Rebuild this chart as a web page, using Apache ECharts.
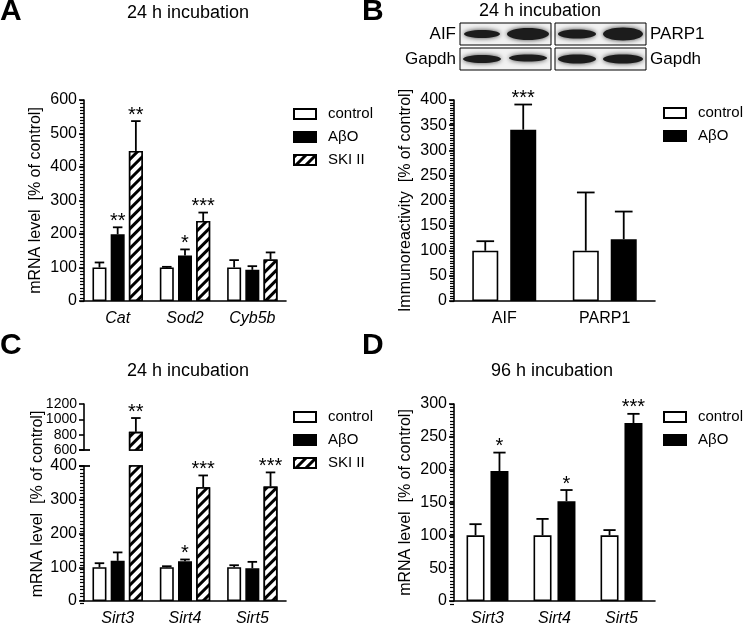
<!DOCTYPE html>
<html><head><meta charset="utf-8">
<script src="https://cdn.jsdelivr.net/npm/echarts@6/dist/echarts.min.js"></script>
<style>html,body{margin:0;padding:0;background:#fff}#c{width:745px;height:627px}</style>
</head><body><div id="c"></div>
<script>
// ---------- DATA ----------
const catA = ['Cat', 'Sod2', 'Cyb5b'];
const ctrlA = [100, 100, 100];
const ctrlAErr = [15, 2, 22];
const abA = [199, 136, 93];
const abAErr = [21, 18, 11];
const skiA = [448, 239, 124];
const skiAErr = [89, 25, 21];
const sigAbA = ['**', '*', ''];
const sigSkiA = ['**', '***', ''];

const catB = ['AIF', 'PARP1'];
const ctrlB = [100, 100];
const ctrlBErr = [19, 116];
const abB = [341, 123];
const abBErr = [50, 55];
const sigAbB = ['***', ''];

const catC = ['Sirt3', 'Sirt4', 'Sirt5'];
const ctrlC = [100, 100, 100];
const ctrlCErr = [12, 3, 6];
const abC = [119, 118, 97];
const abCErr = [25, 5, 19];
const skiC = [837, 337, 339];
const skiCErr = [180, 35, 42];
const sigAbC = ['', '*', ''];
const sigSkiC = ['**', '***', '***'];

const catD = ['Sirt3', 'Sirt4', 'Sirt5'];
const ctrlD = [100, 100, 100];
const ctrlDErr = [17, 25, 8];
const abD = [198, 152, 271];
const abDErr = [28, 17, 14];
const sigAbD = ['*', '*', '***'];

const ticksA = {min: 0, max: 600, interval: 100, minor: 10};
const ticksB = {min: 0, max: 400, interval: 50, minor: 5};
const ticksCUp = {min: 600, max: 1200, interval: 200};
const ticksCLow = {min: 0, max: 400, interval: 100, minor: 10};
const ticksD = {min: 0, max: 300, interval: 50, minor: 5};

// ---------- STYLE ----------
const FONT = 'Liberation Sans';
const hatch = {
  symbol: 'rect', symbolSize: 1, color: '#000', backgroundColor: '#fff',
  dashArrayX: [1, 0], dashArrayY: [2.5, 3.5], rotation: -Math.PI / 4
};
const styles = {
  control: {color: '#fff', borderColor: '#000', borderWidth: 1.6},
  ab: {color: '#000', borderColor: '#000', borderWidth: 1.6},
  ski: {color: '#fff', borderColor: '#000', borderWidth: 1.6, decal: hatch}
};

const grids = [
  {left: 84, top: 100, width: 202, height: 201},
  {left: 454, top: 100, width: 201, height: 201},
  {left: 84, top: 404, width: 202, height: 46},
  {left: 84, top: 466, width: 202, height: 137},
  {left: 454, top: 404, width: 201, height: 200}
];

function bar(name, data, style, gi, bw, gap) {
  return {
    type: 'bar', name: name, data: data, xAxisIndex: gi, yAxisIndex: gi,
    barWidth: bw, barGap: gap, itemStyle: style, clip: true, z: 2,
    emphasis: {disabled: true}
  };
}

function errs(means, errVals, sigs, gi, idx, count, bw, gap) {
  return {
    type: 'custom', xAxisIndex: gi, yAxisIndex: gi, z: 5, silent: true,
    data: means.map((m, i) => [i, m, errVals[i]]),
    renderItem: function (params, api) {
      const ci = api.value(0), m = api.value(1), e = api.value(2);
      const cs = params.coordSys;
      const base = api.coord([ci, m]);
      if (base[1] < cs.y - 0.5 || base[1] > cs.y + cs.height + 0.5) return;
      const top = api.coord([ci, m + e]);
      let off;
      const lay = api.barLayout ? api.barLayout({barWidth: bw, barGap: gap, count: count}) : null;
      if (lay && lay[idx]) off = lay[idx].offsetCenter;
      else off = (idx - (count - 1) / 2) * bw * (1 + parseFloat(gap) / 100);
      const x = base[0] + off;
      const half = bw * 0.34;
      const ch = [
        {type: 'line', shape: {x1: x, y1: base[1], x2: x, y2: top[1]}, style: {stroke: '#000', lineWidth: 1.8}},
        {type: 'line', shape: {x1: x - half, y1: top[1], x2: x + half, y2: top[1]}, style: {stroke: '#000', lineWidth: 1.8}}
      ];
      const s = sigs ? sigs[params.dataIndex] : '';
      if (s) ch.push({type: 'text', x: x, y: top[1] + 4, style: {text: s, textAlign: 'center', textVerticalAlign: 'bottom', font: '20px ' + FONT, fill: '#000'}});
      return {type: 'group', children: ch};
    }
  };
}

// minor ticks: a thin helper grid just left of each y axis, sharing its scale
const minorSets = [[0, ticksA], [1, ticksB], [3, ticksCLow], [4, ticksD]];
const auxGrids = minorSets.map(([gi]) => ({left: grids[gi].left - 4, top: grids[gi].top, width: 4, height: grids[gi].height}));
const auxX = minorSets.map((s, k) => ({type: 'value', gridIndex: 5 + k, min: 0, max: 1, show: false}));
const auxY = minorSets.map(([gi, t], k) => ({type: 'value', gridIndex: 5 + k, min: t.min, max: t.max, show: false}));
const auxSeries = minorSets.map(([gi, t], k) => {
  const vals = [];
  for (let v = t.min; v <= t.max + 1e-9; v += t.minor) vals.push([0, v]);
  return {
    type: 'custom', xAxisIndex: 5 + k, yAxisIndex: 5 + k, z: 6, silent: true, data: vals,
    renderItem: function (params, api) {
      const p = api.coord([0, api.value(1)]);
      const cs = params.coordSys;
      const y = Math.round(p[1]) + 0.5;
      return {type: 'line', shape: {x1: cs.x, y1: y, x2: cs.x + cs.width, y2: y}, style: {stroke: '#000', lineWidth: 1.2}};
    }
  };
});

function yAx(gi, t, name, gap, fs) {
  return {
    type: 'value', gridIndex: gi, min: t.min, max: t.max, interval: t.interval, position: 'left',
    name: name || '', nameLocation: 'middle', nameGap: gap || 40,
    nameTextStyle: {fontFamily: FONT, fontSize: 16, color: '#000'},
    axisLine: {show: true, lineStyle: {color: '#000', width: 1.6}},
    axisTick: {show: true, length: 5, lineStyle: {color: '#000', width: 1.6}},
    splitLine: {show: false},
    axisLabel: {fontFamily: FONT, fontSize: fs || 16, color: '#000', margin: 7, hideOverlap: false,
      showMinLabel: true, showMaxLabel: true, formatter: v => String(v)}
  };
}
function xAx(gi, cats, italic, show) {
  return {
    type: 'category', gridIndex: gi, data: cats, show: show !== false,
    axisLine: {show: true, lineStyle: {color: '#000', width: 1.6}},
    axisTick: {show: false},
    axisLabel: {fontFamily: FONT, fontSize: 16, color: '#000', margin: 10, fontStyle: italic ? 'italic' : 'normal'}
  };
}

function legend(names, left, top) {
  return {
    data: names, orient: 'vertical', left: left, top: top, itemWidth: 22, itemHeight: 10, itemGap: 5,
    icon: 'rect', selectedMode: false,
    textStyle: {fontFamily: FONT, fontSize: 15, color: '#000', lineHeight: 18, padding: [0, 0, 0, 7]}
  };
}

const upOnly = skiC.map(v => v > ticksCUp.min ? v : '-');
const dash = skiC.map(() => '-');

function txt(t, x, y, size, opts) {
  return {type: 'text', x: x, y: y, style: Object.assign({text: t, font: size + 'px ' + FONT, fill: '#000', textAlign: 'center', textVerticalAlign: 'middle'}, opts || {})};
}
function band(cx, cy, rx, ry) {
  return {type: 'ellipse', shape: {cx: cx, cy: cy, rx: rx, ry: ry}, style: {fill: '#1c1c1c', shadowBlur: 5, shadowColor: 'rgba(0,0,0,0.75)'}, z: 10};
}

const cLabel = txt('mRNA level  [% of control]', 38, 504, 16, {});
cLabel.rotation = Math.PI / 2;

const option = {
  animation: false,
  backgroundColor: '#fff',
  grid: grids.concat(auxGrids),
  xAxis: [xAx(0, catA, true), xAx(1, catB, false), xAx(2, catC, true, false), xAx(3, catC, true), xAx(4, catD, true)].concat(auxX),
  yAxis: [
    yAx(0, ticksA, 'mRNA level  [% of control]', 40),
    yAx(1, ticksB, 'Immunoreactivity  [% of control]', 40),
    yAx(2, ticksCUp, '', 40, 14),
    yAx(3, ticksCLow, ''),
    yAx(4, ticksD, 'mRNA level  [% of control]', 40)
  ].concat(auxY),
  legend: [
    legend(['control', 'AβO', 'SKI II'], 288, 100),
    legend(['control', 'AβO'], 658, 99),
    legend(['control', 'AβO', 'SKI II'], 288, 403),
    legend(['control', 'AβO'], 658, 403)
  ],
  series: [
    bar('control', ctrlA, styles.control, 0, 14, '30%'),
    bar('AβO', abA, styles.ab, 0, 14, '30%'),
    bar('SKI II', skiA, styles.ski, 0, 14, '30%'),
    errs(ctrlA, ctrlAErr, null, 0, 0, 3, 14, '30%'),
    errs(abA, abAErr, sigAbA, 0, 1, 3, 14, '30%'),
    errs(skiA, skiAErr, sigSkiA, 0, 2, 3, 14, '30%'),

    bar('control', ctrlB, styles.control, 1, 26, '46%'),
    bar('AβO', abB, styles.ab, 1, 26, '46%'),
    errs(ctrlB, ctrlBErr, null, 1, 0, 2, 26, '46%'),
    errs(abB, abBErr, sigAbB, 1, 1, 2, 26, '46%'),

    bar('control', dash, styles.control, 2, 14, '30%'),
    bar('AβO', dash, styles.ab, 2, 14, '30%'),
    bar('SKI II', upOnly, styles.ski, 2, 14, '30%'),
    errs(skiC, skiCErr, sigSkiC, 2, 2, 3, 14, '30%'),

    bar('control', ctrlC, styles.control, 3, 14, '30%'),
    bar('AβO', abC, styles.ab, 3, 14, '30%'),
    bar('SKI II', skiC, styles.ski, 3, 14, '30%'),
    errs(ctrlC, ctrlCErr, null, 3, 0, 3, 14, '30%'),
    errs(abC, abCErr, sigAbC, 3, 1, 3, 14, '30%'),
    errs(skiC, skiCErr, sigSkiC, 3, 2, 3, 14, '30%'),

    bar('control', ctrlD, styles.control, 4, 18, '33%'),
    bar('AβO', abD, styles.ab, 4, 18, '33%'),
    errs(ctrlD, ctrlDErr, null, 4, 0, 2, 18, '33%'),
    errs(abD, abDErr, sigAbD, 4, 1, 2, 18, '33%')
  ].concat(auxSeries),
  graphic: [
    txt('A', 0, 12, 30, {textAlign: 'left', font: 'bold 30px ' + FONT}),
    txt('B', 362, 12, 30, {textAlign: 'left', font: 'bold 30px ' + FONT}),
    txt('C', 0, 346, 30, {textAlign: 'left', font: 'bold 30px ' + FONT}),
    txt('D', 362, 346, 30, {textAlign: 'left', font: 'bold 30px ' + FONT}),
    txt('24 h incubation', 188, 13, 18),
    txt('24 h incubation', 540, 11, 18),
    txt('24 h incubation', 188, 371, 18),
    txt('96 h incubation', 552, 371, 18),
    cLabel,
    // western blot images
    {type: 'rect', shape: {x: 460, y: 23, width: 91, height: 22}, style: {fill: '#f2f2f2', stroke: '#000', lineWidth: 1}, z: 9},
    {type: 'rect', shape: {x: 460, y: 48, width: 91, height: 22}, style: {fill: '#f2f2f2', stroke: '#000', lineWidth: 1}, z: 9},
    {type: 'rect', shape: {x: 555, y: 23, width: 91, height: 22}, style: {fill: '#f2f2f2', stroke: '#000', lineWidth: 1}, z: 9},
    {type: 'rect', shape: {x: 555, y: 48, width: 91, height: 22}, style: {fill: '#f2f2f2', stroke: '#000', lineWidth: 1}, z: 9},
    band(482, 34, 18, 4), band(528, 34, 21, 6),
    band(577, 34, 19, 4.5), band(623, 34, 20, 6.5),
    band(482, 59, 19, 4), band(528, 58, 19, 3.5),
    band(577, 59, 19, 4.5), band(623, 59, 20, 4.5),
    txt('AIF', 456, 34, 17, {textAlign: 'right'}),
    txt('Gapdh', 456, 59, 17, {textAlign: 'right'}),
    txt('PARP1', 650, 34, 17, {textAlign: 'left'}),
    txt('Gapdh', 650, 59, 17, {textAlign: 'left'})
  ]
};

const chart = echarts.init(document.getElementById('c'), null, {renderer: 'canvas'});
chart.setOption(option);

// axis-break marks on panel C, placed through the axes' own scales
const pUp = chart.convertToPixel({xAxisIndex: 2, yAxisIndex: 2}, [0, ticksCUp.min]);
const pLow = chart.convertToPixel({xAxisIndex: 3, yAxisIndex: 3}, [0, ticksCLow.max]);
const gx = grids[3].left;
chart.setOption({graphic: option.graphic.concat([
  {type: 'line', shape: {x1: gx - 5, y1: pUp[1], x2: gx + 6, y2: pUp[1]}, style: {stroke: '#000', lineWidth: 1.8}, z: 20},
  {type: 'line', shape: {x1: gx - 5, y1: pLow[1], x2: gx + 6, y2: pLow[1]}, style: {stroke: '#000', lineWidth: 1.8}, z: 20}
])});
</script></body></html>
